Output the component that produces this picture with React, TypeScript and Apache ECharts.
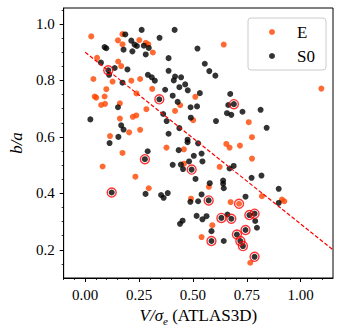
import React, { useEffect, useRef } from "react";
import * as echarts from "echarts";

// E galaxies [V/sigma_e, b/a]
const eData: number[][] = [
  [0.028, 0.956], [0.173, 0.964], [0.152, 0.942], [0.173, 0.928], [0.251, 0.943],
  [0.281, 0.933], [0.293, 0.928], [0.314, 0.899], [0.055, 0.88], [0.153, 0.867],
  [0.167, 0.851], [0.038, 0.805], [0.127, 0.796], [0.098, 0.769], [0.214, 0.799],
  [0.255, 0.805], [0.311, 0.77], [0.044, 0.743], [0.051, 0.739], [0.09, 0.743],
  [0.238, 0.754], [0.511, 0.742], [0.074, 0.713], [0.092, 0.717], [0.161, 0.719],
  [0.441, 0.712], [0.417, 0.692], [0.284, 0.698], [0.221, 0.671], [0.237, 0.676],
  [0.161, 0.665], [0.501, 0.659], [0.204, 0.616], [0.255, 0.625], [0.115, 0.603],
  [0.377, 0.562], [0.458, 0.556], [0.173, 0.543], [0.459, 0.505], [0.081, 0.495],
  [0.233, 0.459], [0.295, 0.418], [0.574, 0.423], [0.491, 0.381], [0.643, 0.927],
  [1.096, 0.771], [0.759, 0.652], [0.774, 0.599], [0.655, 0.575], [0.67, 0.562],
  [0.718, 0.569], [0.774, 0.523], [0.624, 0.494], [0.675, 0.369], [0.714, 0.363],
  [0.82, 0.39], [0.913, 0.378], [0.924, 0.372], [0.59, 0.287], [0.54, 0.245],
  [0.766, 0.154],
];

// S0 galaxies [V/sigma_e, b/a]
const s0Data: number[][] = [
  [0.186, 0.963], [0.262, 0.979], [0.415, 0.979], [0.345, 0.951], [0.214, 0.941],
  [0.229, 0.927], [0.24, 0.922], [0.272, 0.923], [0.09, 0.918], [0.098, 0.914],
  [0.178, 0.909], [0.219, 0.903], [0.281, 0.892], [0.295, 0.915], [0.521, 0.913],
  [0.387, 0.879], [0.073, 0.863], [0.137, 0.844], [0.196, 0.839], [0.107, 0.836],
  [0.111, 0.82], [0.387, 0.834], [0.173, 0.792], [0.291, 0.82], [0.309, 0.811],
  [0.323, 0.799], [0.411, 0.8], [0.417, 0.814], [0.445, 0.811], [0.437, 0.776],
  [0.464, 0.786], [0.476, 0.765], [0.371, 0.767], [0.406, 0.746], [0.344, 0.733],
  [0.555, 0.859], [0.576, 0.833], [0.604, 0.817], [0.532, 0.755], [0.673, 0.752],
  [0.664, 0.713], [0.69, 0.716], [0.658, 0.684], [0.678, 0.678], [0.73, 0.689],
  [0.814, 0.696], [0.607, 0.656], [0.842, 0.632], [0.519, 0.708], [0.489, 0.705],
  [0.429, 0.724], [0.362, 0.681], [0.378, 0.656], [0.49, 0.668], [0.024, 0.662],
  [0.152, 0.705], [0.167, 0.641], [0.178, 0.626], [0.387, 0.611], [0.437, 0.631],
  [0.154, 0.6], [0.113, 0.578], [0.475, 0.59], [0.475, 0.581], [0.434, 0.553],
  [0.29, 0.549], [0.277, 0.521], [0.524, 0.577], [0.54, 0.541], [0.504, 0.533],
  [0.544, 0.513], [0.482, 0.513], [0.406, 0.501], [0.444, 0.502], [0.454, 0.486],
  [0.494, 0.484], [0.512, 0.451], [0.689, 0.497], [0.67, 0.488], [0.772, 0.455],
  [0.818, 0.463], [0.578, 0.436], [0.64, 0.445], [0.64, 0.434], [0.643, 0.418],
  [0.898, 0.416], [0.123, 0.403], [0.28, 0.398], [0.352, 0.394], [0.364, 0.384],
  [0.383, 0.401], [0.488, 0.37], [0.524, 0.372], [0.54, 0.396], [0.573, 0.375],
  [0.744, 0.388], [0.898, 0.366], [0.517, 0.32], [0.44, 0.292], [0.452, 0.303],
  [0.544, 0.308], [0.563, 0.319], [0.632, 0.313], [0.678, 0.31], [0.66, 0.325],
  [0.762, 0.323], [0.786, 0.328], [0.789, 0.302], [0.797, 0.278], [0.586, 0.266],
  [0.744, 0.27], [0.704, 0.254], [0.72, 0.231], [0.732, 0.213], [0.586, 0.231],
  [0.643, 0.231], [0.786, 0.175],
];

// highlighted (ringed) galaxies
const ringed: number[][] = [
  [0.107, 0.836], [0.344, 0.733], [0.69, 0.716], [0.277, 0.521], [0.494, 0.484],
  [0.123, 0.403], [0.573, 0.375], [0.714, 0.363], [0.632, 0.313], [0.678, 0.31],
  [0.762, 0.323], [0.786, 0.328], [0.744, 0.27], [0.704, 0.254], [0.72, 0.231],
  [0.732, 0.213], [0.586, 0.231], [0.786, 0.175],
];

// dividing line endpoints
const divLine: number[][] = [[0, 0.9], [1.15, 0.2]];

const xRange = [-0.1, 1.15];
const yRange = [0.1, 1.0566];
const xMajor = [0, 0.25, 0.5, 0.75, 1.0];
const xMinor = [-0.1, -0.05, 0.05, 0.1, 0.15, 0.2, 0.3, 0.35, 0.4, 0.45, 0.55, 0.6, 0.65, 0.7, 0.8, 0.85, 0.9, 0.95, 1.05, 1.1];
const yMajor = [0.2, 0.4, 0.6, 0.8, 1.0];
const yMinor = [0.15, 0.25, 0.3, 0.35, 0.45, 0.5, 0.55, 0.65, 0.7, 0.75, 0.85, 0.9, 0.95, 1.05];

const FONT = "'Liberation Serif', 'DejaVu Serif', serif";

export default function App() {
  const ref = useRef<HTMLDivElement>(null);
  useEffect(() => {
    if (!ref.current) return;
    const chart = echarts.init(ref.current, null, { renderer: "svg" });
    chart.setOption({
      animation: false,
      backgroundColor: "#fff",
      textStyle: { fontFamily: FONT },
      grid: {
        left: 62, right: 11, top: 8, bottom: 58,
        show: true, borderColor: "#000", borderWidth: 1, backgroundColor: "transparent",
      },
      legend: {
        data: ["E", "S0"],
        orient: "vertical",
        left: 248, top: 18,
        padding: [5, 7, 5, 21],
        itemGap: 6,
        itemWidth: 6, itemHeight: 6,
        icon: "circle",
        borderColor: "#cccccc", borderWidth: 1, borderRadius: 3,
        backgroundColor: "rgba(255,255,255,0.8)",
        selectedMode: false,
        textStyle: {
          fontFamily: FONT, fontSize: 17, color: "#000",
          lineHeight: 18, width: 22, align: "center", padding: [0, 0, 0, 17],
        },
      },
      xAxis: [
        {
          type: "value", min: xRange[0], max: xRange[1], position: "bottom",
          name: "{i|V/σ}{s|e}{r| (ATLAS3D)}",
          nameLocation: "middle", nameGap: 23,
          nameTextStyle: {
            fontFamily: FONT, fontSize: 17, color: "#000",
            rich: {
              i: { fontFamily: FONT, fontSize: 17, fontStyle: "italic", color: "#000", lineHeight: 22, verticalAlign: "middle" },
              s: { fontFamily: FONT, fontSize: 11, fontStyle: "italic", color: "#000", lineHeight: 22, verticalAlign: "bottom" },
              r: { fontFamily: FONT, fontSize: 17, color: "#000", lineHeight: 22, verticalAlign: "middle" },
            },
          },
          axisLine: { show: true, onZero: false, lineStyle: { color: "#000", width: 1 } },
          axisTick: { show: true, length: 4, customValues: xMajor, lineStyle: { color: "#000", width: 1 } },
          axisLabel: {
            customValues: xMajor, margin: 9, color: "#000", fontFamily: FONT, fontSize: 15,
            formatter: (v: number) => v.toFixed(2),
          },
          splitLine: { show: false },
        },
        {
          type: "value", min: xRange[0], max: xRange[1], position: "bottom", offset: 0,
          axisLine: { show: false, onZero: false },
          axisTick: { show: true, length: 2, customValues: xMinor, lineStyle: { color: "#000", width: 0.8 } },
          axisLabel: { show: false },
          splitLine: { show: false },
        },
      ],
      yAxis: [
        {
          type: "value", min: yRange[0], max: yRange[1], position: "left",
          name: "b/a", nameLocation: "middle", nameGap: 34, nameRotate: 90,
          nameTextStyle: { fontFamily: FONT, fontSize: 17, fontStyle: "italic", color: "#000" },
          axisLine: { show: true, onZero: false, lineStyle: { color: "#000", width: 1 } },
          axisTick: { show: true, length: 4, customValues: yMajor, lineStyle: { color: "#000", width: 1 } },
          axisLabel: {
            customValues: yMajor, margin: 9, color: "#000", fontFamily: FONT, fontSize: 15,
            formatter: (v: number) => v.toFixed(1),
          },
          splitLine: { show: false },
        },
        {
          type: "value", min: yRange[0], max: yRange[1], position: "left", offset: 0,
          axisLine: { show: false, onZero: false },
          axisTick: { show: true, length: 2, customValues: yMinor, lineStyle: { color: "#000", width: 0.8 } },
          axisLabel: { show: false },
          splitLine: { show: false },
        },
      ],
      series: [
        {
          name: "E", type: "scatter", data: eData, symbol: "circle", symbolSize: 6,
          itemStyle: { color: "#ff4500" }, emphasis: { disabled: true }, z: 2,
        },
        {
          name: "S0", type: "scatter", data: s0Data, symbol: "circle", symbolSize: 6,
          itemStyle: { color: "#000000" }, emphasis: { disabled: true }, z: 3,
        },
        {
          name: "ring", type: "scatter", data: ringed, symbol: "circle", symbolSize: 9,
          itemStyle: { color: "rgba(0,0,0,0)", borderColor: "#ff0000", borderWidth: 1.4 },
          emphasis: { disabled: true }, z: 4,
        },
        {
          name: "line", type: "line", data: divLine, showSymbol: false, symbol: "none",
          lineStyle: { color: "#ff0000", width: 1.2, type: [4, 2] },
          emphasis: { disabled: true }, z: 5, clip: true,
        },
      ],
    });
    return () => chart.dispose();
  }, []);
  return (
    <div
      ref={ref}
      style={{ position: "fixed", left: 0, top: 0, width: 344, height: 336, background: "#fff" }}
    />
  );
}
